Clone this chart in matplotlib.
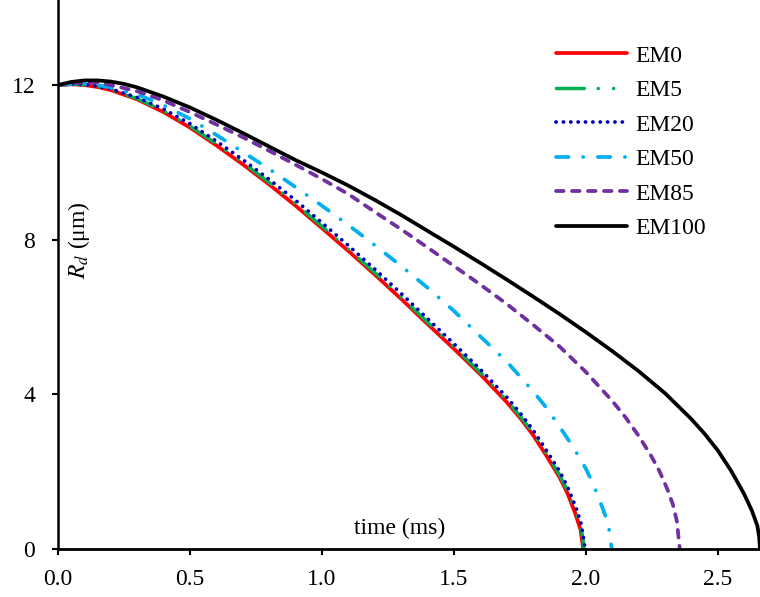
import matplotlib
matplotlib.use('Agg')
import matplotlib.pyplot as plt

plt.rcParams['font.family'] = ['Liberation Serif', 'DejaVu Serif']
plt.rcParams['mathtext.fontset'] = 'stix'
plt.rcParams['lines.scale_dashes'] = False

# droplet radius (um) vs time (ms)
t_em0 = [0, 0.05, 0.1, 0.15, 0.2, 0.3, 0.4, 0.5, 0.6, 0.7, 0.8, 0.9, 1.0, 1.1, 1.2, 1.3, 1.4,
         1.5, 1.6, 1.7, 1.75, 1.8, 1.85, 1.9, 1.93, 1.96, 1.98, 1.99]
r_em0 = [12.0, 12.02, 12.0, 11.95, 11.87, 11.63, 11.3, 10.9, 10.44, 9.95, 9.43, 8.88, 8.3, 7.71,
         7.1, 6.47, 5.82, 5.18, 4.52, 3.8, 3.4, 2.95, 2.42, 1.86, 1.45, 0.92, 0.5, 0]

t_em5 = [0, 0.05, 0.1, 0.15, 0.2, 0.3, 0.4, 0.5, 0.6, 0.7, 0.8, 0.9, 1.0, 1.1, 1.2, 1.3, 1.4,
         1.5, 1.6, 1.7, 1.75, 1.8, 1.85, 1.9, 1.93, 1.96, 1.98, 1.99, 1.993]
r_em5 = [12.0, 12.02, 12.01, 11.96, 11.88, 11.65, 11.33, 10.94, 10.48, 10.0, 9.48, 8.93, 8.35,
         7.76, 7.15, 6.52, 5.87, 5.23, 4.57, 3.85, 3.45, 3.0, 2.48, 1.92, 1.52, 1.0, 0.6, 0.25, 0]

t_em20 = [0, 0.05, 0.1, 0.15, 0.2, 0.3, 0.4, 0.5, 0.6, 0.7, 0.8, 0.9, 1.0, 1.1, 1.2, 1.3, 1.4,
          1.5, 1.6, 1.7, 1.75, 1.8, 1.85, 1.9, 1.93, 1.96, 1.98, 1.99, 1.997]
r_em20 = [12.0, 12.03, 12.02, 11.97, 11.9, 11.68, 11.38, 11.0, 10.55, 10.07, 9.56, 9.02, 8.44,
          7.85, 7.24, 6.61, 5.96, 5.31, 4.65, 3.93, 3.53, 3.08, 2.56, 2.02, 1.62, 1.12, 0.72, 0.35, 0]

t_em50 = [0, 0.05, 0.1, 0.15, 0.2, 0.3, 0.4, 0.5, 0.6, 0.7, 0.8, 0.9, 1.0, 1.1, 1.2, 1.3, 1.4,
          1.5, 1.6, 1.7, 1.8, 1.85, 1.9, 1.95, 2.0, 2.03, 2.06, 2.08, 2.09, 2.098]
r_em50 = [12.0, 12.03, 12.03, 12.0, 11.94, 11.76, 11.48, 11.13, 10.71, 10.27, 9.83, 9.36, 8.88,
          8.38, 7.86, 7.32, 6.76, 6.16, 5.5, 4.85, 4.08, 3.66, 3.17, 2.66, 2.08, 1.65, 1.12, 0.75,
          0.45, 0]

t_em85 = [0, 0.05, 0.1, 0.15, 0.2, 0.3, 0.4, 0.5, 0.6, 0.7, 0.8, 0.9, 1.0, 1.1, 1.2, 1.3, 1.4,
          1.5, 1.6, 1.7, 1.8, 1.9, 2.0, 2.1, 2.15, 2.2, 2.25, 2.28, 2.31, 2.33, 2.345, 2.356]
r_em85 = [12.0, 12.05, 12.07, 12.06, 12.0, 11.84, 11.6, 11.3, 10.98, 10.65, 10.3, 9.94, 9.57,
          9.18, 8.72, 8.27, 7.8, 7.32, 6.84, 6.34, 5.8, 5.24, 4.58, 3.83, 3.41, 2.93, 2.38, 2.0,
          1.53, 1.15, 0.72, 0]

t_em100 = [0, 0.05, 0.1, 0.15, 0.2, 0.25, 0.3, 0.4, 0.5, 0.6, 0.7, 0.8, 0.9, 1.0, 1.1, 1.2, 1.3,
           1.4, 1.5, 1.6, 1.7, 1.8, 1.9, 2.0, 2.1, 2.2, 2.3, 2.4, 2.45, 2.5, 2.55, 2.6, 2.63,
           2.65, 2.657, 2.66]
r_em100 = [12.0, 12.08, 12.12, 12.12, 12.09, 12.03, 11.94, 11.7, 11.42, 11.1, 10.76, 10.41,
           10.06, 9.74, 9.4, 9.03, 8.64, 8.23, 7.82, 7.4, 6.97, 6.53, 6.08, 5.61, 5.12, 4.6,
           4.03, 3.36, 2.98, 2.55, 2.03, 1.42, 0.98, 0.6, 0.3, 0]

labels = ['EM0', 'EM5', 'EM20', 'EM50', 'EM85', 'EM100']
x_ticks = [0.0, 0.5, 1.0, 1.5, 2.0, 2.5]
y_ticks = [0, 4, 8, 12]

fig = plt.figure(figsize=(7.6, 5.97), dpi=100)
ax = fig.add_axes([58 / 760, 48 / 597, 702 / 760, 549 / 597])

ax.plot(t_em0, r_em0, color='#ff0000', lw=2.7, solid_capstyle='round', label=labels[0])
ax.plot(t_em5, r_em5, color='#00b050', lw=2.5, dashes=(20, 10, 0.1, 11, 0.1, 10),
        dash_capstyle='round', label=labels[1])
ax.plot(t_em20, r_em20, color='#0000c0', lw=2.7, dashes=(0.1, 5.2),
        dash_capstyle='round', label=labels[2])
ax.plot(t_em50, r_em50, color='#00b0f0', lw=2.7, dashes=(9, 10.5, 0.1, 10.5),
        dash_capstyle='round', label=labels[3])
ax.plot(t_em85, r_em85, color='#7030a0', lw=2.7, dashes=(5.5, 6),
        dash_capstyle='round', label=labels[4])
ax.plot(t_em100, r_em100, color='black', lw=2.7, solid_capstyle='round', label=labels[5])

ax.set_xlim(0, 2.66)
ax.set_ylim(0, 14.2)
ax.set_xticks(x_ticks)
ax.set_xticklabels(['%.1f' % v for v in x_ticks])
ax.set_yticks(y_ticks)

for s in ['top', 'right']:
    ax.spines[s].set_visible(False)
ax.spines['left'].set_linewidth(1.8)
ax.spines['bottom'].set_linewidth(2.0)
ax.tick_params(axis='both', direction='out', length=4.5, width=1.5, labelsize=17)
ax.tick_params(axis='x', pad=10)
ax.tick_params(axis='y', pad=12)

ax.text(0.030, 0.563, r'$R_d$ (μm)', transform=ax.transAxes, rotation=90,
        ha='center', va='center', fontsize=17)
ax.text(0.487, 0.038, 'time (ms)', transform=ax.transAxes,
        ha='center', va='center', fontsize=17)

leg = ax.legend(loc='upper left', bbox_to_anchor=(556 / 760, 1 - 45 / 597),
                bbox_transform=fig.transFigure, frameon=False, fontsize=17,
                handlelength=3.0, handletextpad=0.35, labelspacing=0.55,
                borderpad=0, borderaxespad=0)

fig.savefig('out.png', dpi=100)
